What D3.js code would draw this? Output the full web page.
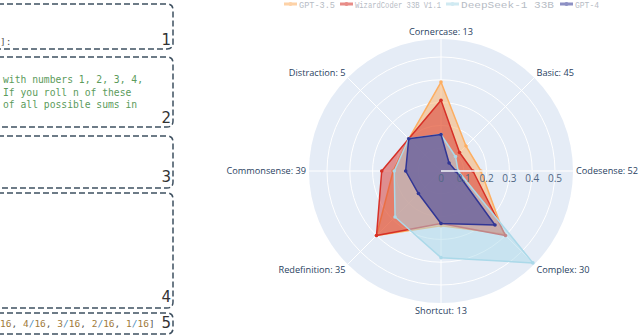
<!DOCTYPE html>
<html>
<head>
<meta charset="utf-8">
<script src="https://cdn.jsdelivr.net/npm/d3@7"></script>
<style>
  html, body { margin: 0; padding: 0; background: #fff; }
  svg { display: block; }
</style>
</head>
<body>
<svg id="chart" width="640" height="335"></svg>
<script>
// data

const categories = ['Cornercase: 13', 'Basic: 45', 'Codesense: 52', 'Complex: 30',
                    'Shortcut: 13', 'Redefinition: 35', 'Commonsense: 39', 'Distraction: 5']
const seriesNames = ['GPT-3.5', 'WizardCoder 33B V1.1', 'DeepSeek-1 33B', 'GPT-4']
const gpt35    = [0.39, 0.155, 0.175, 0.39, 0.24, 0.40, 0.21, 0.20]
const wizard   = [0.31, 0.115, 0.14, 0.40, 0.23, 0.40, 0.26, 0.20]
const deepseek = [0.16, 0.09, 0.075, 0.57, 0.38, 0.285, 0.205, 0.20]
const gpt4     = [0.16, 0.05, 0.065, 0.335, 0.23, 0.14, 0.155, 0.20]
const radialTicks = [0, 0.1, 0.2, 0.3, 0.4, 0.5]

const colors = ['#fdae61', '#d73027', '#abd9e9', '#313695']

// left panel: the cut-off dashed boxes
const boxes = [
  { y0: 4, y1: 49, num: '1', base: 45 },
  { y0: 57, y1: 127, num: '2', base: 123 },
  { y0: 136, y1: 188, num: '3', base: 182 },
  { y0: 193, y1: 308, num: '4', base: 302 },
  { y0: 313, y1: 334, num: '5', base: 328 }
]
const box2Lines = ['with numbers 1, 2, 3, 4,', 'If you roll n of these', 'of all possible sums in']
const box5Tokens = ['16', ', ', '4', '/', '16', ', ', '3', '/', '16', ', ', '2', '/', '16', ', ', '1', '/', '16', ']']

const svgEl = d3.select('#chart')

// ---- left panel
const left = svgEl.append('g')
left.selectAll('path.box').data(boxes).join('path')
  .attr('class', 'box')
  .attr('fill', 'none')
  .attr('stroke', '#3e5060')
  .attr('stroke-width', 1.5)
  .attr('stroke-dasharray', '6,3')
  .attr('d', (b) => {
    const r = 6, x1 = 173, x0 = -20
    return 'M' + x0 + ',' + b.y0 + 'H' + (x1 - r) + 'Q' + x1 + ',' + b.y0 + ' ' + x1 + ',' + (b.y0 + r) +
           'V' + (b.y1 - r) + 'Q' + x1 + ',' + b.y1 + ' ' + (x1 - r) + ',' + b.y1 + 'H' + x0
  })
left.selectAll('text.num').data(boxes).join('text')
  .attr('class', 'num')
  .attr('x', 171).attr('y', (b) => b.base)
  .attr('text-anchor', 'end')
  .attr('font-family', 'DejaVu Sans, sans-serif')
  .attr('font-size', 15)
  .attr('fill', '#333')
  .text((b) => b.num)

left.append('text')
  .attr('x', 0).attr('y', 45)
  .attr('font-family', 'DejaVu Sans Mono, monospace')
  .attr('font-size', 9.5)
  .attr('fill', '#555')
  .text(']:')

left.selectAll('text.code').data(box2Lines).join('text')
  .attr('class', 'code')
  .attr('x', 3).attr('y', (d, i) => 83 + i * 12.5)
  .attr('font-family', 'DejaVu Sans Mono, monospace')
  .attr('font-size', 9.7)
  .attr('fill', '#5b9b5b')
  .text((d) => d)

left.append('text')
  .attr('x', 0).attr('y', 327)
  .attr('font-family', 'DejaVu Sans Mono, monospace')
  .attr('font-size', 9.5)
  .selectAll('tspan').data(box5Tokens).join('tspan')
  .attr('fill', (t) => t === '/' ? '#4d8fc1' : (/\d/.test(t) ? '#a07a3a' : '#555'))
  .style('white-space', 'pre')
  .text((t) => t)

// ---- radar
const cx = 441, cy = 171, R = 132
const r = d3.scaleLinear().domain([0, 0.579]).range([0, R])
const angle = d3.scalePoint().domain(categories).range([0, 2 * Math.PI * (categories.length - 1) / categories.length])

const polar = svgEl.append('g').attr('transform', 'translate(' + [cx, cy] + ')')
polar.append('circle').attr('r', R).attr('fill', '#e5ecf6')

polar.selectAll('circle.grid').data(radialTicks.slice(1)).join('circle')
  .attr('class', 'grid')
  .attr('r', (d) => r(d))
  .attr('fill', 'none').attr('stroke', '#fff').attr('stroke-width', 1)

polar.selectAll('line.spoke').data(categories).join('line')
  .attr('class', 'spoke')
  .attr('x2', (c) => R * Math.sin(angle(c)))
  .attr('y2', (c) => -R * Math.cos(angle(c)))
  .attr('stroke', '#fff').attr('stroke-width', 1)

const allSeries = [gpt35, wizard, deepseek, gpt4]
const radial = d3.lineRadial()
  .angle((d, i) => angle(categories[i]))
  .radius((d) => r(d))
  .curve(d3.curveLinearClosed)

allSeries.forEach((vals, k) => {
  const g = polar.append('g')
  g.append('path')
    .attr('d', radial(vals))
    .attr('fill', colors[k]).attr('fill-opacity', 0.5)
    .attr('stroke', colors[k]).attr('stroke-width', 1.5)
    .attr('stroke-linejoin', 'round')
  g.selectAll('circle').data(vals).join('circle')
    .attr('cx', (d, i) => r(d) * Math.sin(angle(categories[i])))
    .attr('cy', (d, i) => -r(d) * Math.cos(angle(categories[i])))
    .attr('r', 1.8)
    .attr('fill', colors[k])
})

// radial axis along 0 deg (right)
polar.append('line')
  .attr('x1', 0).attr('x2', R).attr('stroke', '#f4f6fa').attr('stroke-width', 1.5)
polar.selectAll('text.rtick').data(radialTicks).join('text')
  .attr('class', 'rtick')
  .attr('x', (d) => r(d)).attr('y', 11)
  .attr('text-anchor', 'middle')
  .attr('font-family', 'Open Sans, sans-serif')
  .attr('font-size', 10)
  .attr('fill', '#506784')
  .text((d) => d)

// angular labels
polar.selectAll('text.cat').data(categories).join('text')
  .attr('class', 'cat')
  .attr('x', (c) => (R + 3) * Math.sin(angle(c)))
  .attr('y', (c) => -(R + 3) * Math.cos(angle(c)))
  .attr('dy', (c) => (0.35 - 0.5 * Math.cos(angle(c))) + 'em')
  .attr('text-anchor', (c) => {
    const s = Math.sin(angle(c))
    return s > 0.3 ? 'start' : (s < -0.3 ? 'end' : 'middle')
  })
  .attr('font-family', 'Open Sans, sans-serif')
  .attr('font-size', 9.2)
  .attr('fill', '#2a3f5f')
  .text((c) => c)

// ---- legend
const legendX = [284, 340, 446, 560]
const legendW = [36, 86, 93, 24]
const legend = svgEl.append('g').attr('opacity', 0.55)
seriesNames.forEach((name, k) => {
  const g = legend.append('g').attr('transform', 'translate(' + legendX[k] + ',4)')
  g.append('line').attr('x1', 0).attr('x2', 13)
    .attr('stroke', colors[k]).attr('stroke-width', 3)
  g.append('circle').attr('cx', 6.5).attr('r', 2).attr('fill', colors[k])
  g.append('text')
    .attr('x', 15).attr('y', 3.5)
    .attr('font-family', 'Liberation Mono, monospace')
    .attr('font-size', 9)
    .attr('fill', '#7a8594')
    .attr('textLength', legendW[k])
    .attr('lengthAdjust', 'spacingAndGlyphs')
    .text(name)
})
</script>
</body>
</html>
